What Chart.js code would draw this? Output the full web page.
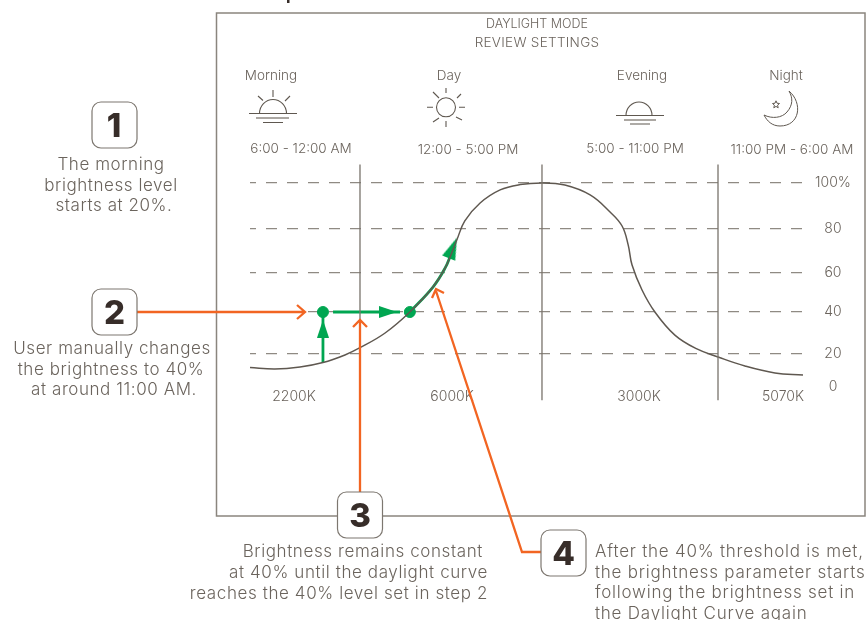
<!DOCTYPE html>
<html>
<head>
<meta charset="utf-8">
<title>Daylight mode</title>
<script src="https://cdn.jsdelivr.net/npm/chart.js@4/dist/chart.umd.js"></script>
<style>
  html, body { margin: 0; padding: 0; background: #fff; }
  #wrap { position: relative; width: 867px; height: 620px; overflow: hidden; }
  canvas { position: absolute; left: 0; top: 0; }
  svg { position: absolute; left: 0; top: 0; }
  text { font-family: Inter, sans-serif; font-weight: 300; fill: #6b645d; }
  .side { font-size: 17px; letter-spacing: .57px; }
  .under { font-size: 17px; letter-spacing: .6px; }
  .right { font-size: 17px; letter-spacing: .77px; }
  .small { font-size: 13.5px; }
  .title { font-size: 12.5px; }
  .num { font-size: 33px; font-weight: 800; fill: #372d29; text-anchor: middle; }
  .mid { text-anchor: middle; }
  .end { text-anchor: end; }
</style>
</head>
<body>
<div id="wrap">
  <canvas id="chart" width="867" height="620"></canvas>
  <!-- frame, icons, callouts and notes round the chart -->
  <svg width="867" height="620" viewBox="0 0 867 620" fill="none">
    <rect x="216.5" y="13" width="648.5" height="503" stroke="#8a857e" stroke-width="1.5"/>
    <rect x="287" y="0" width="2.5" height="3" fill="#372d29"/>

    <text class="title mid" x="537" y="28">DAYLIGHT MODE</text>
    <text class="small mid" x="537" y="47" style="letter-spacing:.3px">REVIEW SETTINGS</text>
    <text class="small mid" x="271" y="80">Morning</text>
    <text class="small mid" x="449" y="80">Day</text>
    <text class="small mid" x="642" y="80">Evening</text>
    <text class="small mid" x="786" y="80">Night</text>
    <text class="small mid" x="301" y="153">6:00 - 12:00 AM</text>
    <text class="small mid" x="468" y="154">12:00 - 5:00 PM</text>
    <text class="small mid" x="635" y="153">5:00 - 11:00 PM</text>
    <text class="small mid" x="792" y="154">11:00 PM - 6:00 AM</text>

    <!-- morning -->
    <g stroke="#5f5850" stroke-width="1.1">
      <path d="M249 113.500H297M263 122.500H283"/>
      <path d="M256 118H289" stroke="#8f8a83" stroke-width="1.5"/>
      <path d="M259.500 113.500A13.500 14 0 0 1 286.500 113.500"/>
      <path d="M273 90V97M258 96L263 100.500M290 96L285 101"/>
    </g>
    <!-- day -->
    <g stroke="#5f5850" stroke-width="1.1">
      <circle cx="446" cy="107.300" r="9.500"/>
      <path d="M446 88V93M446 121V127M427 107.300H433M459 107.300H465M433 92L439 98M461 94L457 98M433 122L439 118M462 120L456 117"/>
    </g>
    <!-- evening -->
    <g stroke="#5f5850" stroke-width="1.1">
      <path d="M616 115.500H664M630 124H650"/>
      <path d="M624 120H656" stroke="#8f8a83" stroke-width="1.5"/>
      <path d="M626 115.500A13 13.500 0 0 1 652 115.500"/>
    </g>
    <!-- night -->
    <g stroke="#5f5850" stroke-width="1">
      <path d="M789 91C803 103 800 126 780 126C772 126 767 121 764 115C772 119 782 118 787 112C793 105 793 98 789 91Z"/>
      <path d="M776 100.800L777 103.200L779.500 103.500L777.600 105.200L778.200 107.800L776 106.400L773.800 107.800L774.400 105.200L772.500 103.500L775 103.200Z"/>
    </g>

    <!-- orange leaders -->
    <g stroke="#f26522" stroke-width="2.300">
      <path d="M137 312H304M297 305L305 312L297 319"/>
      <path d="M360 492V321M353 327L360 320L367 327"/>
      <path d="M541 552H522L436 291M432 298L436 289L444 293"/>
    </g>

    <!-- numbered boxes -->
    <g fill="#fff" stroke="#7d7770" stroke-width="1.2">
      <rect x="92" y="102" width="45" height="46" rx="9"/>
      <rect x="92" y="289" width="45" height="46" rx="9"/>
      <rect x="337.500" y="492" width="45" height="46" rx="9"/>
      <rect x="541" y="530" width="45" height="46" rx="9"/>
    </g>
    <text class="num" x="114" y="137">1</text>
    <text class="num" x="114.500" y="324">2</text>
    <text class="num" x="360" y="527">3</text>
    <text class="num" x="563.500" y="565">4</text>

    <text class="side mid" x="111" y="170">The morning</text>
    <text class="side mid" x="111" y="191">brightness level</text>
    <text class="side mid" x="114" y="211">starts at 20%.</text>
    <text class="side mid" x="112" y="354">User manually changes</text>
    <text class="side mid" x="111" y="375">the brightness to 40%</text>
    <text class="side mid" x="114" y="395">at around 11:00 AM.</text>
    <text class="under end" x="483" y="557">Brightness remains constant</text>
    <text class="under end" x="488" y="578">at 40% until the daylight curve</text>
    <text class="under end" x="488" y="599">reaches the 40% level set in step 2</text>
    <text class="right" x="595" y="557">After the 40% threshold is met,</text>
    <text class="right" x="595" y="578">the brightness parameter starts</text>
    <text class="right" x="595" y="598">following the brightness set in</text>
    <text class="right" x="595" y="619">the Daylight Curve again</text>
  </svg>
</div>

<script>
// hours run from 6:00 (6) round to 6:00 next morning (30)
const curveHours = [6, 7.36, 8.73, 9.98, 11.18, 12, 12.69, 13.37, 14.005, 14.34, 14.66, 14.88, 15.3, 15.85, 16.4, 17, 17.78, 18.64, 19.32, 19.73, 19.94, 20.07, 20.41, 20.85, 21.53, 22.28, 23, 25.22, 27.69, 30];
const curveValues = [11.8, 10.9, 12.1, 14.8, 19.4, 23, 30, 40, 52.8, 62.3, 75, 83.5, 91.3, 97, 99.3, 100, 99.1, 94.8, 87.4, 81.3, 72.7, 63.6, 51.3, 40, 29, 22.4, 18.2, 12.7, 8.5, 7.3];

// green path the brightness really takes
const riseHours = [9.98, 9.98];
const riseValues = [14.8, 40];
const holdHours = [10.53, 13.1];
const holdValues = [40, 40];
const followHours = [13.37, 14.005, 14.34, 14.5];
const followValues = [40, 52.8, 62.3, 68.5];
const dotHours = [9.98, 13.37];
const dotValues = [40, 40];
const headHours = [9.98, 12.77, 14.55];
const headValues = [32, 40, 71.4];
const headAngles = [0, 90, 22];

// part of day boundaries
const dividerHours = [12, 17, 23];
const dividerValues = [108, -8];

// axis labels
const yTicks = [0, 20, 40, 60, 80, 100];
const yTickLabels = ['0', '20', '40', '60', '80', '100%'];
const kelvinHours = [8.4, 14.53, 20.31, 28.35];
const kelvinLabels = ['2200K', '6000K', '3000K', '5070K'];

// the drawing's axes are not evenly spaced, so each scale gets its own stops
const xStops = [6, 12, 17, 23, 30];
const xFractions = [0, 0.1989, 0.528, 0.8463, 1];
const yStops = [0, 20, 40, 60, 80, 100];
const yFractions = [0, 0.1618, 0.3676, 0.5588, 0.7745, 1];

class StopScale extends Chart.LinearScale {
  getPixelForValue(value) {
    const stops = this.options.stops;
    const fractions = this.options.fractions;
    let i = 0;
    while (i < stops.length - 2 && value > stops[i + 1]) i++;
    const t = (value - stops[i]) / (stops[i + 1] - stops[i]);
    return this.getPixelForDecimal(fractions[i] + t * (fractions[i + 1] - fractions[i]));
  }
}
StopScale.id = 'stops';
StopScale.defaults = Chart.LinearScale.defaults;
Chart.register(StopScale);

// long thin arrow head, pointing up, used as a point style
function arrowHead(w, h, color) {
  const c = document.createElement('canvas');
  c.width = w;
  c.height = h;
  const g = c.getContext('2d');
  g.fillStyle = color;
  g.beginPath();
  g.moveTo(w / 2, 0);
  g.lineTo(w, h);
  g.lineTo(0, h);
  g.closePath();
  g.fill();
  return c;
}

function toPoints(xs, ys) {
  return xs.map((x, i) => ({ x: x, y: ys[i] }));
}

const GREEN = '#00a651';
const LINE = '#5f5850';
const GRID = '#8f8a83';
const TEXT = '#6b645d';

const greenLine = { borderColor: GREEN, borderWidth: 2.8, pointRadius: 0, clip: false };
const smallHead = arrowHead(12, 18, GREEN);
const bigHead = arrowHead(14, 22, GREEN);

const datasets = dividerHours.map((h) => ({
  label: 'divider',
  data: dividerValues.map((v) => ({ x: h, y: v })),
  borderColor: '#79736c',
  borderWidth: 1.3,
  pointRadius: 0,
  clip: false,
}));
datasets.push({
  label: 'Daylight curve',
  data: toPoints(curveHours, curveValues),
  borderColor: LINE,
  borderWidth: 1.5,
  pointRadius: 0,
  tension: 0.4,
  clip: false,
});
datasets.push(Object.assign({ label: 'rise', data: toPoints(riseHours, riseValues) }, greenLine));
datasets.push(Object.assign({ label: 'hold', data: toPoints(holdHours, holdValues) }, greenLine));
datasets.push(Object.assign({ label: 'follow', data: toPoints(followHours, followValues), tension: 0.4 }, greenLine));
datasets.push({
  label: 'heads',
  data: toPoints(headHours, headValues),
  showLine: false,
  pointStyle: [smallHead, smallHead, bigHead],
  rotation: headAngles,
  pointRadius: 9,
  clip: false,
});
datasets.push({
  label: 'dots',
  data: toPoints(dotHours, dotValues),
  showLine: false,
  pointStyle: 'circle',
  pointRadius: 5.5,
  backgroundColor: GREEN,
  borderColor: GREEN,
  clip: false,
});

new Chart(document.getElementById('chart'), {
  type: 'line',
  data: { datasets: datasets },
  options: {
    responsive: false,
    animation: false,
    layout: { padding: { left: 250, top: 183, right: 0, bottom: 203 } },
    plugins: { legend: { display: false }, tooltip: { enabled: false } },
    scales: {
      x: {
        type: 'stops',
        min: 6,
        max: 30,
        stops: xStops,
        fractions: xFractions,
        border: { display: false },
        grid: { display: false, drawTicks: false },
        afterFit: (s) => { s.height = 30; },
        afterBuildTicks: (s) => { s.ticks = kelvinHours.map((v) => ({ value: v })); },
        ticks: {
          autoSkip: false,
          maxRotation: 0,
          padding: 1,
          color: TEXT,
          font: { family: 'Inter', size: 14, weight: 300 },
          callback: (v) => kelvinLabels[kelvinHours.indexOf(v)],
        },
      },
      y: {
        type: 'stops',
        position: 'right',
        min: 0,
        max: 100,
        stops: yStops,
        fractions: yFractions,
        border: { display: false, dash: [11, 10], dashOffset: 5 },
        grid: {
          color: (c) => (c.tick.value === 0 ? 'transparent' : GRID),
          lineWidth: 1.2,
          drawTicks: false,
        },
        afterFit: (s) => { s.width = 64; },
        afterBuildTicks: (s) => { s.ticks = yTicks.map((v) => ({ value: v })); },
        ticks: {
          padding: 12,
          crossAlign: 'center',
          color: TEXT,
          font: { family: 'Inter', size: 14, weight: 300 },
          callback: (v) => yTickLabels[yTicks.indexOf(v)],
        },
      },
    },
  },
});
</script>
</body>
</html>
